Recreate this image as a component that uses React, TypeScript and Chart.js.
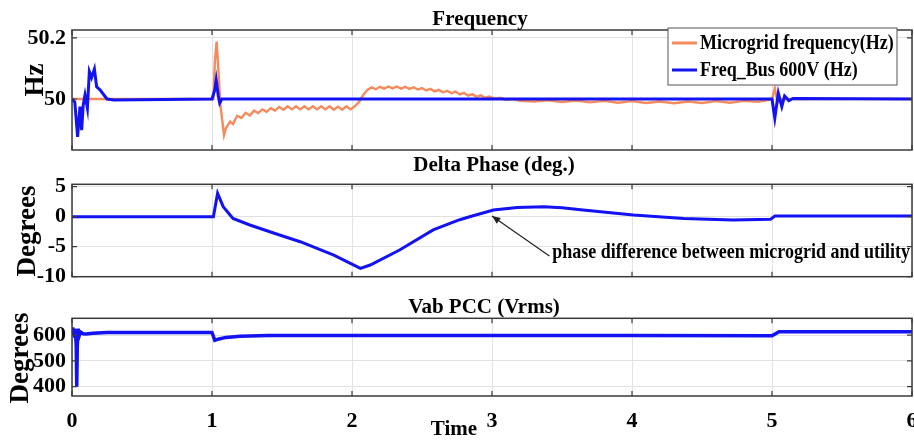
import React, { useEffect, useRef } from "react";
import { Chart, registerables } from "chart.js";
Chart.register(...registerables);

// ---------- data ----------
const xTicks = [0, 1, 2, 3, 4, 5, 6];

const freqBusT = [0, 0.02, 0.04, 0.057, 0.069, 0.08, 0.093, 0.11, 0.124, 0.14, 0.16, 0.176, 0.2, 0.25, 0.3, 1.0, 1.02, 1.03, 1.045, 1.055, 1.07, 5.0, 5.02, 5.045, 5.07, 5.09, 5.12, 5.15, 6.0];
const freqBusV = [50, 49.99, 49.876, 49.975, 49.898, 49.98, 50.013, 49.97, 50.09, 50.07, 50.098, 50.04, 50.03, 50.0, 49.997, 50.0, 50.03, 50.062, 50.01, 49.987, 50.0, 50.0, 49.937, 50.019, 49.975, 50.01, 49.995, 50.002, 50.0];

const freqMgT = [0, 0.3, 1.0, 1.01, 1.02, 1.033, 1.045, 1.06, 1.086, 1.1, 1.13, 1.15, 1.18, 1.21, 1.24, 1.27, 1.3, 1.33, 1.36, 1.39, 1.42, 1.45, 1.48, 1.51, 1.54, 1.57, 1.6, 1.63, 1.66, 1.69, 1.72, 1.75, 1.78, 1.81, 1.84, 1.87, 1.9, 1.93, 1.96, 1.99, 2.02, 2.05, 2.08, 2.11, 2.14, 2.17, 2.2, 2.23, 2.26, 2.29, 2.32, 2.35, 2.38, 2.41, 2.44, 2.47, 2.5, 2.53, 2.56, 2.59, 2.62, 2.65, 2.68, 2.71, 2.74, 2.77, 2.8, 2.83, 2.86, 2.89, 2.92, 2.95, 2.98, 3.02, 3.06, 3.1, 3.15, 3.2, 3.3, 3.4, 3.5, 3.6, 3.7, 3.8, 3.9, 4.0, 4.1, 4.2, 4.3, 4.4, 4.5, 4.6, 4.7, 4.8, 4.9, 4.98, 5.0, 5.02, 5.035, 5.05, 5.07, 6.0];
const freqMgV = [50, 50, 50, 50.0, 50.12, 50.188, 50.1, 49.98, 49.882, 49.905, 49.926, 49.918, 49.945, 49.938, 49.955, 49.946, 49.962, 49.954, 49.966, 49.958, 49.97, 49.962, 49.974, 49.965, 49.976, 49.966, 49.976, 49.966, 49.976, 49.966, 49.976, 49.966, 49.976, 49.966, 49.976, 49.965, 49.975, 49.965, 49.976, 49.966, 49.976, 49.99, 50.013, 50.03, 50.038, 50.032, 50.04, 50.034, 50.041, 50.035, 50.041, 50.034, 50.04, 50.033, 50.038, 50.031, 50.036, 50.028, 50.033, 50.025, 50.03, 50.022, 50.027, 50.019, 50.024, 50.015, 50.02, 50.011, 50.016, 50.007, 50.012, 50.004, 50.008, 50.001, 50.004, 49.997, 50.0, 49.994, 49.992, 49.996, 49.99, 49.995, 49.989, 49.994, 49.988, 49.993, 49.987, 49.992, 49.986, 49.992, 49.987, 49.993, 49.988, 49.994, 49.991, 49.997, 50.0, 50.035, 50.0, 49.99, 50.0, 50.0];

const phaseT = [0, 1.01, 1.04, 1.08, 1.15, 1.27, 1.45, 1.63, 1.87, 2.06, 2.13, 2.34, 2.58, 2.7, 2.77, 2.84, 3.01, 3.18, 3.37, 3.5, 3.65, 4.01, 4.37, 4.72, 4.99, 5.02, 6.0];
const phaseV = [0, 0, 3.9, 1.67, -0.28, -1.38, -2.8, -4.17, -6.4, -8.6, -8.05, -5.55, -2.2, -1.1, -0.5, 0.0, 1.1, 1.55, 1.67, 1.5, 1.1, 0.28, -0.28, -0.55, -0.44, 0.1, 0.1];

const vabT = [0, 0.005, 0.01, 0.015, 0.02, 0.025, 0.03, 0.034, 0.038, 0.045, 0.05, 0.06, 0.08, 0.1, 0.15, 0.25, 1.0, 1.02, 1.05, 1.1, 1.2, 1.4, 2.0, 3.0, 4.0, 5.0, 5.05, 6.0];
const vabV = [619, 630, 600, 625, 590, 615, 560, 400, 560, 625, 595, 612, 605, 604, 607, 610, 610, 580, 585, 591, 595, 598, 598, 598, 598, 597, 613, 613];

const freqTicks = [50, 50.2];
const phaseTicks = [-10, -5, 0, 5];
const vabTicks = [400, 500, 600];

const seriesNames = ["Microgrid frequency(Hz)", "Freq_Bus 600V (Hz)"];
const annotationText = "phase difference between microgrid and utility";

// ---------- styling ----------
const FONT = "'Liberation Serif', 'Times New Roman', serif";
const BLUE = "#1212f2";
const ORANGE = "#f58a5c";
const GRID = "#e2e2e2";
const FRAME = "#3a3a3a";
const W = 914;

function pts(t: number[], v: number[]) {
  return t.map((x, i) => ({ x, y: v[i] }));
}

type PanelCfg = {
  top: number;
  height: number;
  padTop: number;
  padBottom: number;
  xHeight: number;
  showX: boolean;
  yMin: number;
  yMax: number;
  yTicks: number[];
  datasets: any[];
  title: string;
  titleX: number;
  titleY: number;
  yLabel: string;
  yLabelX: number;
  yLabelY: number;
  extra?: (chart: any, top: number) => void;
};

function stretchedText(ctx: any, text: string, x: number, y: number, sy: number) {
  ctx.save();
  ctx.translate(x, y);
  ctx.scale(1, sy);
  ctx.fillText(text, 0, 0);
  ctx.restore();
}

function makeChart(canvas: HTMLCanvasElement, p: PanelCfg) {
  const framePlugin = {
    id: "frame" + p.title.replace(/\W/g, ""),
    afterDraw(chart: any) {
      const ctx = chart.ctx;
      const { left, top, right, bottom } = chart.chartArea;
      const xs = chart.scales.x;
      const ys = chart.scales.y;
      ctx.save();
      ctx.strokeStyle = FRAME;
      ctx.lineWidth = 1.2;
      ctx.beginPath();
      xTicks.forEach((v) => {
        const px = xs.getPixelForValue(v);
        ctx.moveTo(px, top);
        ctx.lineTo(px, top + 5);
        ctx.moveTo(px, bottom);
        ctx.lineTo(px, bottom - 5);
      });
      p.yTicks.forEach((v) => {
        const py = ys.getPixelForValue(v);
        ctx.moveTo(left, py);
        ctx.lineTo(left + 5, py);
        ctx.moveTo(right, py);
        ctx.lineTo(right - 5, py);
      });
      ctx.stroke();
      ctx.lineWidth = 1.5;
      ctx.strokeRect(left, top, right - left, bottom - top);
      ctx.fillStyle = "#000";
      ctx.font = `bold 21px ${FONT}`;
      ctx.textAlign = "center";
      ctx.textBaseline = "middle";
      ctx.fillText(p.title, p.titleX, p.titleY - p.top);
      ctx.save();
      ctx.translate(p.yLabelX, p.yLabelY - p.top);
      ctx.rotate(-Math.PI / 2);
      ctx.font = `bold 27px ${FONT}`;
      ctx.fillText(p.yLabel, 0, 0);
      ctx.restore();
      if (p.extra) p.extra(chart, p.top);
      ctx.restore();
    },
  };

  const tickFont = { family: FONT, size: 22, weight: "bold" as const };

  return new Chart(canvas, {
    type: "line",
    data: { datasets: p.datasets },
    options: {
      animation: false,
      responsive: false,
      maintainAspectRatio: false,
      layout: { padding: { top: p.padTop, bottom: p.padBottom, left: 0, right: 2 } },
      plugins: { legend: { display: false }, tooltip: { enabled: false }, title: { display: false } },
      elements: { point: { radius: 0 }, line: { tension: 0 } },
      scales: {
        x: {
          type: "linear",
          min: 0,
          max: 6,
          afterBuildTicks: (s: any) => {
            s.ticks = xTicks.map((v) => ({ value: v }));
          },
          afterFit: (s: any) => {
            s.height = p.xHeight;
            s.paddingLeft = 0;
            s.paddingRight = 0;
            s.paddingTop = 0;
            s.paddingBottom = 0;
          },
          grid: { color: GRID, lineWidth: 1, drawTicks: false },
          border: { display: false },
          ticks: { display: p.showX, padding: 12, color: "#000", font: tickFont, maxRotation: 0, autoSkip: false },
        },
        y: {
          type: "linear",
          min: p.yMin,
          max: p.yMax,
          afterBuildTicks: (s: any) => {
            s.ticks = p.yTicks.map((v) => ({ value: v }));
          },
          afterFit: (s: any) => {
            s.width = 72;
            s.paddingTop = 0;
            s.paddingBottom = 0;
            s.paddingLeft = 0;
            s.paddingRight = 0;
          },
          grid: { color: GRID, lineWidth: 1, drawTicks: false },
          border: { display: false },
          ticks: {
            padding: 6,
            color: "#000",
            font: tickFont,
            autoSkip: false,
            callback: (v: any) => String(Math.round(Number(v) * 100) / 100),
          },
        },
      },
    },
    plugins: [framePlugin],
  } as any);
}

function Panel({ cfg }: { cfg: PanelCfg }) {
  const ref = useRef<HTMLCanvasElement>(null);
  useEffect(() => {
    if (!ref.current) return;
    const c = makeChart(ref.current, cfg);
    return () => c.destroy();
  }, []);
  return (
    <canvas
      ref={ref}
      width={W}
      height={cfg.height}
      style={{ position: "absolute", left: 0, top: cfg.top, width: W, height: cfg.height }}
    />
  );
}

const panel1: PanelCfg = {
  top: 0,
  height: 155,
  padTop: 30,
  padBottom: 5,
  xHeight: 0,
  showX: false,
  yMin: 49.833,
  yMax: 50.226,
  yTicks: freqTicks,
  datasets: [
    { label: seriesNames[1], data: pts(freqBusT, freqBusV), borderColor: BLUE, borderWidth: 3, order: 0 },
    { label: seriesNames[0], data: pts(freqMgT, freqMgV), borderColor: ORANGE, borderWidth: 2.4, order: 1 },
  ],
  title: "Frequency",
  titleX: 480,
  titleY: 20,
  yLabel: "Hz",
  yLabelX: 36,
  yLabelY: 80,
  extra: (chart, top) => {
    const ctx = chart.ctx;
    const x0 = 668, y0 = 28 - top, w = 229, h = 57;
    ctx.fillStyle = "#fff";
    ctx.fillRect(x0, y0, w, h);
    ctx.strokeStyle = "#555";
    ctx.lineWidth = 1;
    ctx.strokeRect(x0, y0, w, h);
    const rows = [
      { c: ORANGE, t: seriesNames[0], y: 43 - top },
      { c: BLUE, t: seriesNames[1], y: 70 - top },
    ];
    rows.forEach((r) => {
      ctx.strokeStyle = r.c;
      ctx.lineWidth = 3;
      ctx.beginPath();
      ctx.moveTo(672, r.y);
      ctx.lineTo(697, r.y);
      ctx.stroke();
      ctx.fillStyle = "#000";
      ctx.font = `bold 18px ${FONT}`;
      ctx.textAlign = "left";
      ctx.textBaseline = "middle";
      stretchedText(ctx, r.t, 700, r.y, 1.2);
    });
  },
};

const panel2: PanelCfg = {
  top: 150,
  height: 135,
  padTop: 34.3,
  padBottom: 8.3,
  xHeight: 0,
  showX: false,
  yMin: -10,
  yMax: 5.4,
  yTicks: phaseTicks,
  datasets: [{ label: "Delta Phase", data: pts(phaseT, phaseV), borderColor: BLUE, borderWidth: 3 }],
  title: "Delta Phase (deg.)",
  titleX: 494,
  titleY: 166,
  yLabel: "Degrees",
  yLabelX: 28,
  yLabelY: 231,
  extra: (chart) => {
    const ctx = chart.ctx;
    const xs = chart.scales.x;
    const ys = chart.scales.y;
    const tipX = xs.getPixelForValue(3.0);
    const tipY = ys.getPixelForValue(0.1);
    const tailX = xs.getPixelForValue(3.41);
    const tailY = ys.getPixelForValue(-6.55);
    ctx.strokeStyle = "#222";
    ctx.lineWidth = 1.2;
    ctx.beginPath();
    ctx.moveTo(tailX, tailY);
    ctx.lineTo(tipX, tipY);
    ctx.stroke();
    const ang = Math.atan2(tipY - tailY, tipX - tailX);
    const L = 9;
    ctx.fillStyle = "#222";
    ctx.beginPath();
    ctx.moveTo(tipX, tipY);
    ctx.lineTo(tipX - L * Math.cos(ang - 0.4), tipY - L * Math.sin(ang - 0.4));
    ctx.lineTo(tipX - L * Math.cos(ang + 0.4), tipY - L * Math.sin(ang + 0.4));
    ctx.closePath();
    ctx.fill();
    ctx.fillStyle = "#000";
    ctx.font = `bold 18px ${FONT}`;
    ctx.textAlign = "left";
    ctx.textBaseline = "middle";
    stretchedText(ctx, annotationText, xs.getPixelForValue(3.43), ys.getPixelForValue(-5.95), 1.15);
  },
};

const panel3: PanelCfg = {
  top: 285,
  height: 156,
  padTop: 33.3,
  padBottom: 0,
  xHeight: 45,
  showX: true,
  yMin: 364,
  yMax: 665,
  yTicks: vabTicks,
  datasets: [{ label: "Vab PCC", data: pts(vabT, vabV), borderColor: BLUE, borderWidth: 3.5 }],
  title: "Vab PCC (Vrms)",
  titleX: 484,
  titleY: 308,
  yLabel: "Degrees",
  yLabelX: 21,
  yLabelY: 358,
  extra: (chart, top) => {
    const ctx = chart.ctx;
    ctx.fillStyle = "#000";
    ctx.font = `bold 21px ${FONT}`;
    ctx.textAlign = "center";
    ctx.textBaseline = "middle";
    ctx.fillText("Time", 454, 430 - top);
  },
};

export default function App() {
  return (
    <div style={{ position: "absolute", left: 0, top: 0, width: W, height: 441, background: "#fff" }}>
      <Panel cfg={panel1} />
      <Panel cfg={panel2} />
      <Panel cfg={panel3} />
    </div>
  );
}
